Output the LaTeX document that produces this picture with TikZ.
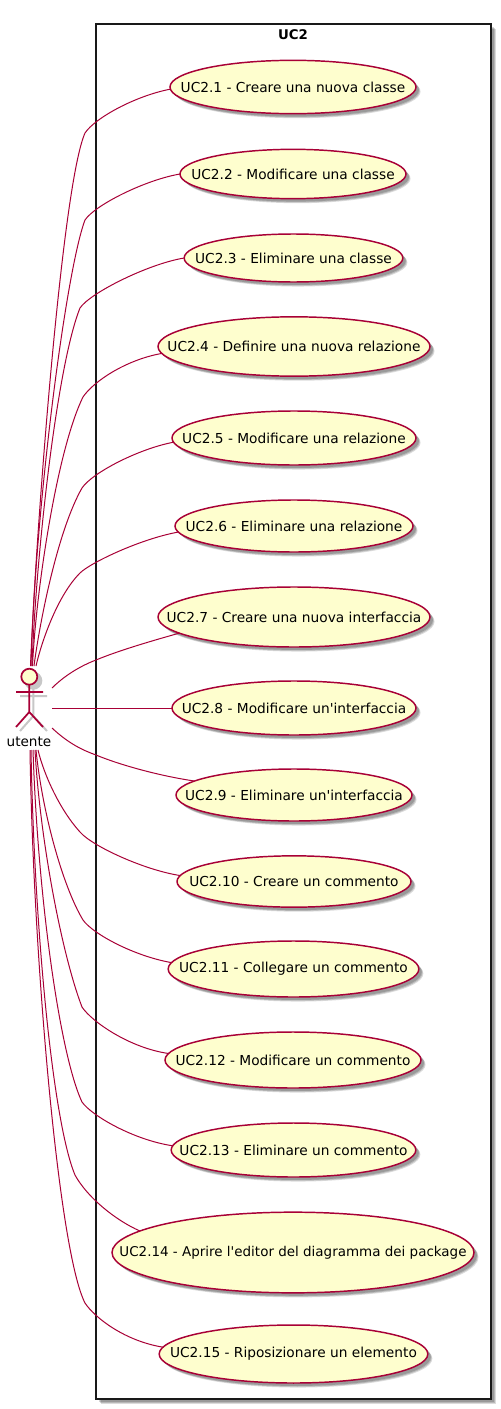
\documentclass[tikz,border=0pt]{standalone}
\usepackage{fontspec}
\newfontfamily\umlfont{DejaVu Sans}
\usetikzlibrary{shadows,shapes.geometric}
\definecolor{umlred}{HTML}{A80036}
\definecolor{umlfill}{HTML}{FEFECE}
\tikzset{
  softshadow/.style={
    general shadow={shadow xshift=2.2pt,shadow yshift=-2.2pt,fill=black,draw=none,opacity=.16},
    general shadow={shadow xshift=2.8pt,shadow yshift=-2.8pt,fill=black,draw=none,opacity=.16},
    general shadow={shadow xshift=3.4pt,shadow yshift=-3.4pt,fill=black,draw=none,opacity=.14}},
  usecase/.style={ellipse,draw=umlred,fill=umlfill,line width=1.1pt,inner sep=0pt,outer sep=0pt,softshadow,
    label={[font=\umlfont\fontsize{10.3pt}{12pt}\selectfont,text=black,inner sep=0pt]center:#1}},
  widecase/.style={ellipse,draw=umlred,fill=umlfill,line width=1.1pt,inner sep=0pt,outer sep=0pt,softshadow,
    label={[font=\umlfont\fontsize{10.1pt}{12pt}\selectfont,text=black,inner sep=0pt]center:#1}},
  conn/.style={draw=umlred,line width=.75pt},
  actorline/.style={draw=umlred,line width=1.3pt},
  actorshade/.style={draw=black!22,line width=1.5pt},
  boxframe/.style={rectangle,draw=black!90,fill=white,line width=1.5pt,inner sep=0pt,outer sep=0pt,softshadow},
}
\begin{document}
\begin{tikzpicture}[x=.75pt,y=-.75pt]
\useasboundingbox (0,0) rectangle (500,1409);
\fill[white] (0,0) rectangle (500,1409);
\node[boxframe,minimum width=296.25pt,minimum height=1031.25pt] (frame) at (293.5,711.5) {};
\node[font=\umlfont\fontsize{10pt}{12pt}\selectfont\bfseries] (ftitle) at (293,34.5) {UC2};
\node[usecase={UC2.1 - Creare una nuova classe},minimum width=184.5pt,minimum height=40pt] (e1) at (293,87) {};
\node[usecase={UC2.2 - Modificare una classe},minimum width=169.5pt,minimum height=37pt] (e2) at (293,174) {};
\node[usecase={UC2.3 - Eliminare una classe},minimum width=164pt,minimum height=36pt] (e3) at (293.5,258) {};
\node[usecase={UC2.4 - Definire una nuova relazione},minimum width=204pt,minimum height=44.5pt] (e4) at (294,346.5) {};
\node[usecase={UC2.5 - Modificare una relazione},minimum width=183pt,minimum height=40.5pt] (e5) at (294,438) {};
\node[usecase={UC2.6 - Eliminare una relazione},minimum width=178.5pt,minimum height=39pt] (e6) at (294,526) {};
\node[usecase={UC2.7 - Creare una nuova interfaccia},minimum width=204pt,minimum height=45pt] (e7) at (294,617) {};
\node[usecase={UC2.8 - Modificare un'interfaccia},minimum width=183pt,minimum height=40.5pt] (e8) at (294,708) {};
\node[usecase={UC2.9 - Eliminare un'interfaccia},minimum width=177pt,minimum height=39pt] (e9) at (294,795) {};
\node[usecase={UC2.10 - Creare un commento},minimum width=175.5pt,minimum height=38.5pt] (e10) at (294,881.5) {};
\node[usecase={UC2.11 - Collegare un commento},minimum width=188pt,minimum height=42pt] (e11) at (293.5,969) {};
\node[usecase={UC2.12 - Modificare un commento},minimum width=192pt,minimum height=42pt] (e12) at (293,1060) {};
\node[usecase={UC2.13 - Eliminare un commento},minimum width=183.5pt,minimum height=40.5pt] (e13) at (293.5,1150) {};
\node[widecase={UC2.14 - Aprire l'editor del diagramma dei package},minimum width=271.5pt,minimum height=60.5pt] (e14) at (293,1252.5) {};
\node[usecase={UC2.15 - Riposizionare un elemento},minimum width=201.5pt,minimum height=43.5pt] (e15) at (293.5,1354) {};
% actor shadow
\draw[actorshade,fill=black!22] (33.3,680.7) circle[radius=8];
\draw[actorshade] (20,696)--(47,696) (33.3,688)--(33.3,716)--(20,731) (33.3,716)--(47,731);
% actor
\node[circle,draw=umlred,fill=umlfill,line width=1.3pt,minimum size=12pt,inner sep=0pt,outer sep=0pt] (head) at (29.3,676.7) {};
\coordinate (arml) at (16,692);
\coordinate (armr) at (43,692);
\coordinate (hip) at (29.3,712);
\coordinate (legl) at (16,727);
\coordinate (legr) at (43,727);
\draw[actorline] (arml)--(armr) (head.south)--(hip) (legl)--(hip)--(legr);
\node[font=\umlfont\fontsize{10.2pt}{12pt}\selectfont] (ulabel) at (29,741.5) {utente};
% connector free ends at the actor
\coordinate (s1) at (30.5,666);
\coordinate (s2) at (31,666);
\coordinate (s3) at (32,666);
\coordinate (s4) at (32.5,666);
\coordinate (s5) at (34,666);
\coordinate (s6) at (36,666);
\coordinate (s7) at (52,688);
\coordinate (s8) at (52,708);
\coordinate (s9) at (52,728);
\coordinate (s10) at (38,750);
\coordinate (s11) at (36,750);
\coordinate (s12) at (35,750);
\coordinate (s13) at (33,750);
\coordinate (s14) at (31,750);
\coordinate (s15) at (30,750);
\draw[conn] (s1) .. controls (36,530) and (62,185) .. (85,133) .. controls (95,118) and (135,96) .. (e1.181);
\draw[conn] (s2) .. controls (35,510) and (66,270) .. (85,220) .. controls (95,205) and (145,180) .. (e2.180);
\draw[conn] (s3) .. controls (36,555) and (57,365) .. (80,308) .. controls (90,293) and (148,264) .. (e3.180);
\draw[conn] (s4) .. controls (36,590) and (57,450) .. (83,397) .. controls (93,382) and (125,360) .. (e4.183);
\draw[conn] (s5) .. controls (40,620) and (58,530) .. (82,488) .. controls (92,473) and (138,449) .. (e5.182);
\draw[conn] (s6) .. controls (42,640) and (58,595) .. (80,573) .. controls (90,563) and (140,539) .. (e6.183);
\draw[conn] (s7) .. controls (60,680) and (75,668) .. (96,660) .. controls (120,650) and (155,640) .. (e7.188.5);
\draw[conn] (s8) -- (e8.180);
\draw[conn] (s9) .. controls (68,743) and (82,750) .. (96,755) .. controls (120,765) and (160,776) .. (e9.172.3);
\draw[conn] (s10) .. controls (44,775) and (60,810) .. (80,832) .. controls (92,846) and (144,870) .. (e10.177.8);
\draw[conn] (s11) .. controls (42,810) and (62,885) .. (83,920) .. controls (93,934) and (134,956) .. (e11.177.2);
\draw[conn] (s12) .. controls (40,840) and (62,955) .. (82,1007) .. controls (92,1022) and (130,1048) .. (e12.177.8);
\draw[conn] (s13) .. controls (38,900) and (60,1055) .. (82,1102) .. controls (92,1116) and (134,1140) .. (e13.178.6);
\draw[conn] (s14) .. controls (34,920) and (52,1120) .. (75,1175) .. controls (87,1197) and (115,1220) .. (e14.172);
\draw[conn] (s15) .. controls (33,950) and (58,1250) .. (85,1303) .. controls (95,1318) and (125,1341) .. (e15.177.4);
\end{tikzpicture}
\end{document}
